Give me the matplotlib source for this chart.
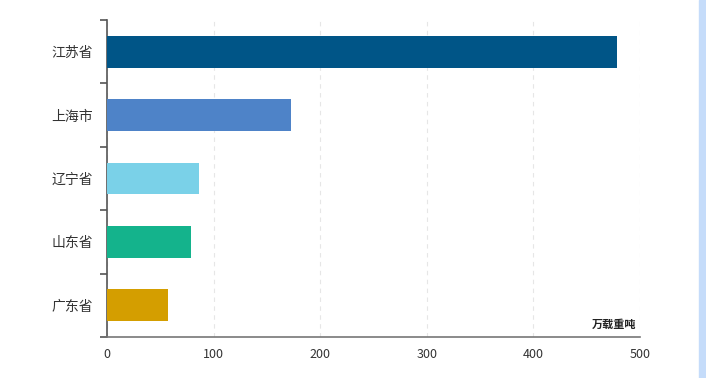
import matplotlib
matplotlib.use("Agg")
import matplotlib.pyplot as plt
import numpy as np

plt.rcParams['font.family'] = ['Noto Sans CJK SC', 'DejaVu Sans']

provinces = ["江苏省", "上海市", "辽宁省", "山东省", "广东省"]
values = [478, 173, 86, 79, 57]
colors = ["#005587", "#4e83c8", "#7ad1e8", "#14b38c", "#d49e00"]
unit = "万载重吨"

fig = plt.figure(figsize=(7.06, 3.78), dpi=100)
ax = fig.add_axes([107 / 706, 1 - 337 / 378, 533 / 706, 317 / 378])

y = np.arange(len(provinces))
ax.barh(y, values, height=0.5, color=colors, zorder=3)
ax.set_ylim(len(provinces) - 0.5, -0.5)
ax.set_xlim(0, 500)

ax.set_xticks([0, 100, 200, 300, 400, 500])
ax.tick_params(axis='x', length=0, pad=8, labelsize=9, labelcolor="#333333")
ax.set_yticks(y)
ax.set_yticklabels(provinces, fontsize=10, color="#333333")
ax.set_yticks(np.arange(len(provinces) + 1) - 0.5, minor=True)
ax.tick_params(axis='y', which='major', length=0, pad=10)
ax.tick_params(axis='y', which='minor', length=5, color="#555555", width=1.2)

ax.grid(axis='x', linestyle=(0, (4, 4)), color="#e6e6e6", linewidth=0.8, zorder=0)
for s in ["top", "right"]:
    ax.spines[s].set_visible(False)
ax.spines["left"].set_color("#555555")
ax.spines["left"].set_linewidth(1.2)
ax.spines["bottom"].set_color("#777777")
ax.spines["bottom"].set_linewidth(1.2)

ax.text(497, 4.3, unit, ha="right", va="center", fontsize=8, fontweight="bold", color="#222222")

# light blue strip on the right edge
fig.patches.append(plt.Rectangle((699 / 706, 0), 7 / 706, 1, transform=fig.transFigure,
                                 color="#c5dcfa", zorder=0))

fig.savefig("out.png", dpi=100)
